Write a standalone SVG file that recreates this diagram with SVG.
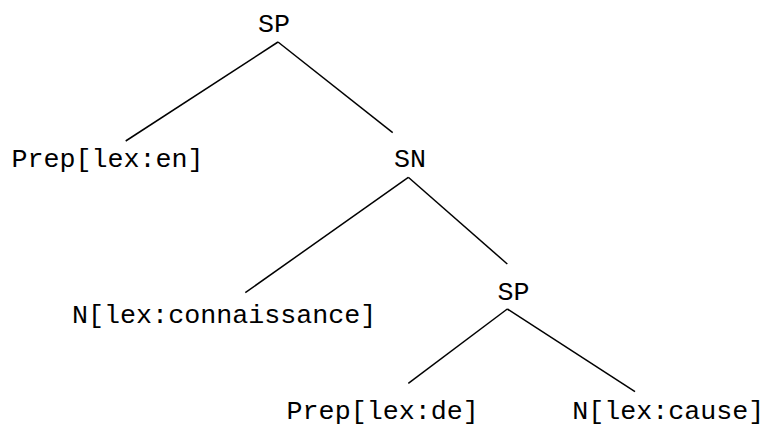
<svg xmlns="http://www.w3.org/2000/svg" width="767" height="428" viewBox="0 0 767 428">
<style>
text { font-family: "Liberation Mono", "Courier New", monospace; font-size: 26.7px; fill: #000; text-anchor: middle; }
.edge { stroke: #000; stroke-width: 1.5; fill: none; }
</style>
<rect width="767" height="428" fill="#fff"/>
<g id="connectors">
<line class="edge" x1="278" y1="42" x2="125.7" y2="141"/>
<line class="edge" x1="278" y1="42" x2="392.7" y2="132.7"/>
<line class="edge" x1="408.3" y1="177.3" x2="245.3" y2="292.7"/>
<line class="edge" x1="408.3" y1="177.3" x2="507.3" y2="264"/>
<line class="edge" x1="507.3" y1="309" x2="408.3" y2="383.3"/>
<line class="edge" x1="507.3" y1="309" x2="635" y2="391.7"/>
</g>
<g id="sp1"><text x="274" y="32">SP</text></g>
<g id="prep-en"><text x="107.5" y="167">Prep[lex:en]</text></g>
<g id="sn"><text x="410" y="167">SN</text></g>
<g id="n-connaissance"><text x="224.2" y="323">N[lex:connaissance]</text></g>
<g id="sp2"><text x="513.5" y="300">SP</text></g>
<g id="prep-de"><text x="382.7" y="419">Prep[lex:de]</text></g>
<g id="n-cause"><text x="668.3" y="419">N[lex:cause]</text></g>
</svg>
